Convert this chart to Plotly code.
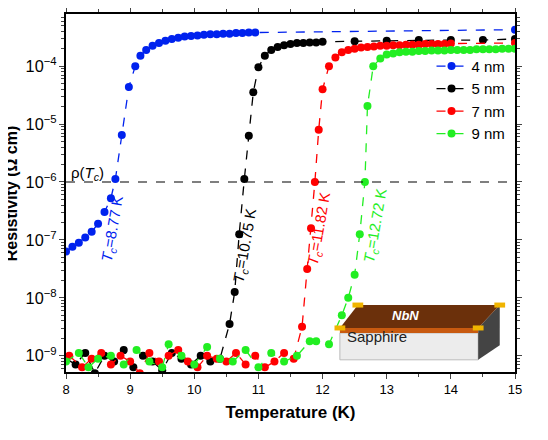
import plotly.graph_objects as go

# log10 resistivity values
t4 = [8.0,8.1,8.2,8.3,8.4,8.5,8.6,8.7,8.77,8.87,8.98,9.08,9.16,9.25,9.35,9.45,9.55,9.65,9.75,9.85,9.95,10.05,10.15,10.25,10.35,10.45,10.55,10.65,10.75,10.85,10.95,15.0]
l4 = [-7.2,-7.12,-7.05,-6.96,-6.86,-6.72,-6.52,-6.28,-5.95,-5.19,-4.36,-4.0,-3.82,-3.72,-3.65,-3.6,-3.56,-3.53,-3.51,-3.49,-3.48,-3.47,-3.46,-3.45,-3.45,-3.44,-3.44,-3.43,-3.43,-3.42,-3.42,-3.37]
t5 = [8.0,8.15,8.3,8.45,8.6,8.75,8.9,9.05,9.2,9.35,9.5,9.65,9.8,9.95,10.1,10.25,10.4,10.55,10.63,10.7,10.78,10.85,10.92,11.0,11.1,11.2,11.3,11.4,11.5,11.6,11.7,11.8,11.9,12.0,12.5,13.0,13.5,14.0,14.5,15.0]
l5 = [-9.05,-9.15,-8.95,-9.3,-9.0,-9.1,-8.9,-9.2,-9.0,-9.1,-9.25,-8.95,-9.05,-9.15,-9.0,-9.1,-9.05,-8.45,-7.9,-6.9,-5.95,-5.2,-4.45,-4.02,-3.82,-3.72,-3.67,-3.64,-3.62,-3.6,-3.6,-3.59,-3.59,-3.58,-3.57,-3.56,-3.55,-3.55,-3.55,-3.53]
t7 = [8.05,8.25,8.4,8.55,8.7,8.85,9.0,9.15,9.3,9.45,9.6,9.75,9.9,10.05,10.2,10.35,10.5,10.65,10.8,10.95,11.1,11.25,11.4,11.55,11.68,11.76,11.82,11.88,11.94,12.0,12.1,12.2,12.3,12.4,12.5,12.6,12.7,12.8,12.9,13.0,13.1,13.2,13.3,13.4,13.5,13.6,13.7,13.8,13.9,14.0,15.0]
l7 = [-9.0,-9.2,-9.05,-8.95,-9.15,-9.0,-9.1,-9.3,-8.95,-9.1,-9.0,-8.9,-9.1,-9.2,-9.0,-9.05,-9.1,-8.95,-9.15,-9.0,-9.2,-9.1,-8.95,-9.05,-8.5,-7.5,-6.8,-6.0,-5.1,-4.4,-4.0,-3.85,-3.76,-3.72,-3.7,-3.68,-3.67,-3.66,-3.65,-3.65,-3.64,-3.64,-3.63,-3.63,-3.63,-3.62,-3.62,-3.62,-3.62,-3.61,-3.6]
t9 = [8.0,8.2,8.35,8.5,8.7,8.9,9.1,9.3,9.5,9.6,9.8,10.0,10.2,10.4,10.6,10.8,11.0,11.2,11.4,11.6,11.8,11.9,12.1,12.3,12.4,12.5,12.58,12.66,12.7,12.79,12.9,13.0,13.1,13.2,13.3,13.4,13.5,13.6,13.7,13.8,13.9,14.0,14.1,14.2,14.3,14.4,14.5,14.6,14.7,14.8,14.9,15.0]
l9 = [-9.1,-8.95,-9.2,-9.05,-9.0,-9.15,-8.9,-9.1,-9.2,-8.8,-9.0,-9.15,-8.85,-9.05,-9.1,-8.9,-9.2,-8.95,-9.1,-9.0,-8.75,-8.75,-8.8,-8.3,-8.0,-7.6,-6.9,-6.0,-4.69,-4.0,-3.87,-3.8,-3.78,-3.76,-3.75,-3.75,-3.74,-3.74,-3.73,-3.73,-3.73,-3.72,-3.72,-3.72,-3.72,-3.71,-3.71,-3.71,-3.71,-3.7,-3.7,-3.7]

series = [("4 nm", t4, l4, "#0022ee"), ("5 nm", t5, l5, "black"),
          ("7 nm", t7, l7, "#ff0000"), ("9 nm", t9, l9, "#22ee22")]

fig = go.Figure()
for name, t, l, c in series:
    fig.add_trace(go.Scatter(x=t, y=[10**v for v in l], name=name, mode="lines+markers",
                             line=dict(color=c, dash="dash", width=1.3),
                             marker=dict(color=c, size=8)))

fig.add_hline(y=1e-6, line=dict(color="black", dash="dash", width=1.2))
fig.add_annotation(x=8.05, y=-5.85, xanchor="left", text="ρ(<i>T<sub>c</sub></i>)",
                   showarrow=False, font=dict(size=15, color="black"))
labels = [(8.73, -6.8, "8.77", "#0022ee"), (10.8, -7.1, "10.75", "black"),
          (11.95, -6.8, "11.82", "#ff0000"), (12.83, -6.75, "12.72", "#22ee22")]
for x, y, s, c in labels:
    fig.add_annotation(x=x, y=y, text=f"<i>T<sub>c</sub></i>={s} K", textangle=-80,
                       showarrow=False, font=dict(size=15, color=c))

# y-axis title
fig.add_annotation(xref="paper", yref="paper", x=-0.122, y=0.5, xanchor="center",
                   yanchor="middle", textangle=-90,
                   text="<b>Resistivity (Ω cm)</b>", showarrow=False, font=dict(size=16))

# inset sketch (paper coordinates)
fig.add_shape(type="rect", xref="paper", yref="paper", x0=0.61, x1=0.918, y0=0.034, y1=0.109,
              fillcolor="#ececec", line=dict(color="#bbbbbb", width=1))
fig.add_shape(type="path", xref="paper", yref="paper",
              path="M 0.918 0.034 L 0.966 0.075 L 0.966 0.187 L 0.918 0.123 Z",
              fillcolor="#444444", line=dict(width=0))
fig.add_shape(type="rect", xref="paper", yref="paper", x0=0.61, x1=0.918, y0=0.109, y1=0.123,
              fillcolor="#c85a10", line=dict(width=0))
fig.add_shape(type="path", xref="paper", yref="paper",
              path="M 0.61 0.123 L 0.918 0.123 L 0.966 0.187 L 0.65 0.187 Z",
              fillcolor="#6b300b", line=dict(width=0))
for px, py in [(0.61, 0.123), (0.918, 0.123), (0.65, 0.187), (0.966, 0.187)]:
    fig.add_shape(type="rect", xref="paper", yref="paper", x0=px-0.012, x1=px+0.012,
                  y0=py-0.007, y1=py+0.007, fillcolor="#f0b400", line=dict(width=0))
fig.add_annotation(xref="paper", yref="paper", x=0.765, y=0.07, text="Sapphire",
                   showarrow=False, font=dict(size=15, color="#222"))
fig.add_annotation(xref="paper", yref="paper", x=0.79, y=0.157, yanchor="middle",
                   text="<b><i>NbN</i></b>", showarrow=False,
                   font=dict(size=13, color="white"))

fig.update_layout(
    width=548, height=440, margin=dict(l=58, r=41, t=6, b=76),
    paper_bgcolor="white", plot_bgcolor="white",
    font=dict(family="Arial, Liberation Sans", color="black", size=13),
    legend=dict(x=0.99, y=0.9, xanchor="right", yanchor="top", bgcolor="rgba(0,0,0,0)",
                font=dict(size=15), tracegroupgap=4),
    xaxis=dict(range=[8, 15], dtick=1, ticks="outside", mirror="ticks", showline=True,
               linecolor="black", linewidth=1.5, showgrid=False, zeroline=False,
               automargin=False,
               minor=dict(ticks="outside", dtick=0.5, ticklen=3),
               title=dict(text="<b>Temperature (K)</b>", font=dict(size=17), standoff=10)),
    yaxis=dict(type="log", range=[-9.28, -3.1], dtick=1, exponentformat="power",
               ticks="outside", mirror="ticks", showline=True, linecolor="black",
               linewidth=1.5, showgrid=False, zeroline=False, automargin=False,
               minor=dict(ticks="outside", ticklen=3)),
)
fig.write_html("out.html")
